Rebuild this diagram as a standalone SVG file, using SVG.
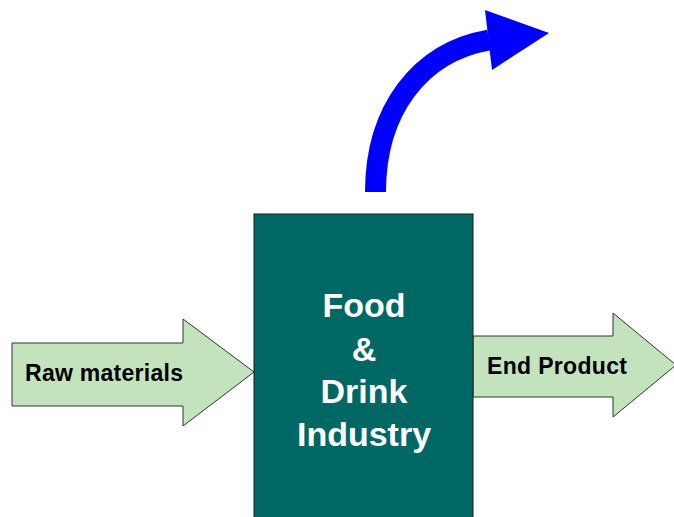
<svg xmlns="http://www.w3.org/2000/svg" width="674" height="517" viewBox="0 0 674 517">
<style>
.flow{fill:#c3e3bd;stroke:#333333;stroke-width:1}
.lbl{font-family:"Liberation Sans",Arial,sans-serif;font-weight:bold;font-size:23px;fill:#000000}
.big{font-family:"Liberation Sans",Arial,sans-serif;font-weight:bold;font-size:34px;fill:#ffffff;text-anchor:middle}
</style>
<rect width="674" height="517" fill="#ffffff"/>
<g id="connectors">
<g id="raw-materials">
<polygon class="flow" points="12,343 183,343 183,319 254,372 183,426 183,406 12,406"/>
<text class="lbl" x="25" y="381" textLength="158" lengthAdjust="spacing">Raw materials</text>
</g>
<g id="end-product">
<polygon class="flow" points="473,336 613,336 613,313 676,365 613,417 613,397 473,397"/>
<text class="lbl" x="487" y="374" textLength="140" lengthAdjust="spacing">End Product</text>
</g>
<g id="output-arrow">
<path d="M375.5,192 C375.5,110 420,52 489,40" fill="none" stroke="#0000ff" stroke-width="21"/>
<polygon points="485,10 549,33 492,70" fill="#0000ff"/>
</g>
</g>
<g id="industry">
<rect x="254" y="214" width="219" height="310" fill="#006864" stroke="#1a1a1a" stroke-width="1"/>
<text class="big" x="364" y="317">Food</text>
<text class="big" x="364" y="361">&amp;</text>
<text class="big" x="364" y="403">Drink</text>
<text class="big" x="364" y="446">Industry</text>
</g>
</svg>
